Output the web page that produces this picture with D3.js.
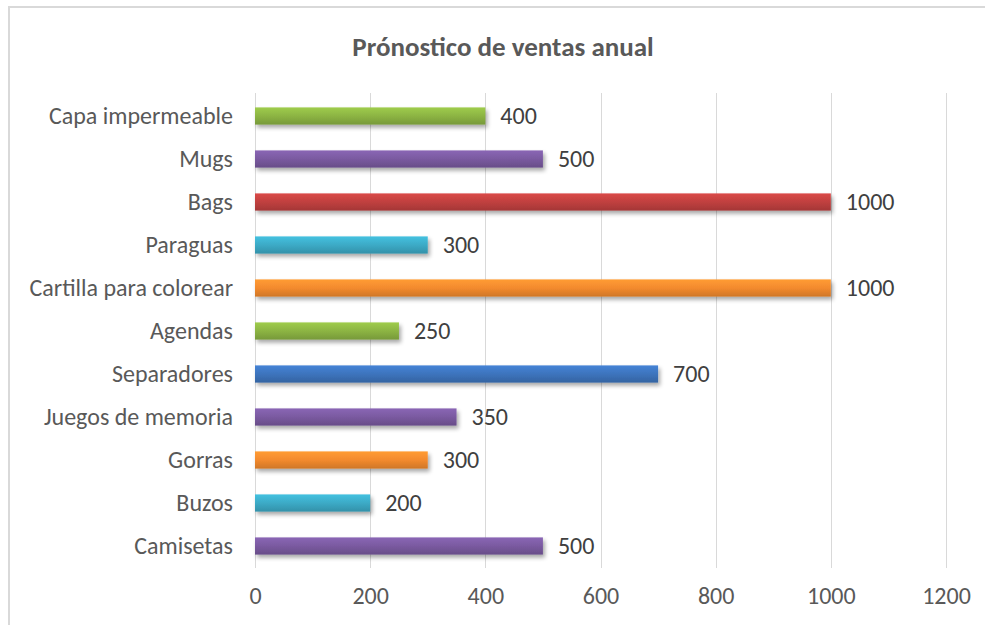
<!DOCTYPE html>
<html>
<head>
<meta charset="utf-8">
<script src="https://cdn.jsdelivr.net/npm/d3@7"></script>
<style>
  body { margin: 0; background: #fff; }
  svg { font-family: Carlito, Calibri, Lato, sans-serif; }
</style>
</head>
<body>
<div id="chart"></div>
<script>
// chart data, listed top to bottom as in the picture
var categories = ["Capa impermeable", "Mugs", "Bags", "Paraguas", "Cartilla para colorear",
                  "Agendas", "Separadores", "Juegos de memoria", "Gorras", "Buzos", "Camisetas"];
var sales = [400, 500, 1000, 300, 1000, 250, 700, 350, 300, 200, 500];
var barColors = ["#8cb443", "#7a5aa0", "#c0403f", "#3caac6", "#f38a2e",
                 "#8cb443", "#3d74bd", "#7a5aa0", "#f38a2e", "#3caac6", "#7a5aa0"];
var tickValues = [0, 200, 400, 600, 800, 1000, 1200];
var title = "Prónostico de ventas anual";

var width = 985, height = 625;
var plot = { left: 255, right: 946, top: 93, bottom: 568 };
var labelSize = 24;

var svg = d3.select("#chart").append("svg")
  .attr("width", width)
  .attr("height", height);

var defs = svg.append("defs");

// soft shadow under the bars
var shadow = defs.append("filter").attr("id", "shadow")
  .attr("x", "-5%").attr("y", "-40%").attr("width", "115%").attr("height", "200%");
shadow.append("feGaussianBlur").attr("in", "SourceAlpha").attr("stdDeviation", 2);
shadow.append("feOffset").attr("dx", 2).attr("dy", 3).attr("result", "blur");
shadow.append("feComponentTransfer").append("feFuncA").attr("type", "linear").attr("slope", 0.35);
var merge = shadow.append("feMerge");
merge.append("feMergeNode");
merge.append("feMergeNode").attr("in", "SourceGraphic");

// one vertical gradient per colour: lighter on top, darker at the bottom
var uniqueColors = Array.from(new Set(barColors));
uniqueColors.forEach(function(c, i) {
  var g = defs.append("linearGradient").attr("id", "grad" + i)
    .attr("x1", 0).attr("y1", 0).attr("x2", 0).attr("y2", 1);
  g.append("stop").attr("offset", "0%").attr("stop-color", d3.color(c).brighter(0.35));
  g.append("stop").attr("offset", "50%").attr("stop-color", c);
  g.append("stop").attr("offset", "100%").attr("stop-color", d3.color(c).darker(0.45));
});

// chart area border
svg.append("rect")
  .attr("x", 9).attr("y", 7)
  .attr("width", 1100).attr("height", 700)
  .attr("fill", "none")
  .attr("stroke", "#d9d9d9")
  .attr("stroke-width", 2);

svg.append("text")
  .attr("x", 503)
  .attr("y", 56)
  .attr("text-anchor", "middle")
  .attr("font-size", 27)
  .attr("font-weight", "bold")
  .attr("fill", "#595959")
  .text(title);

var x = d3.scaleLinear().domain([0, 1200]).range([plot.left, plot.right]);
var y = d3.scaleBand().domain(categories)
  .range([94.5, 567.5])
  .paddingInner(0.6)
  .paddingOuter(0.3);

// gridlines
svg.append("g").selectAll("line")
  .data(tickValues)
  .enter()
  .append("line")
  .attr("x1", function(d) { return Math.round(x(d)) + 0.5; })
  .attr("x2", function(d) { return Math.round(x(d)) + 0.5; })
  .attr("y1", plot.top)
  .attr("y2", plot.bottom)
  .attr("stroke", "#d9d9d9")
  .attr("stroke-width", 1);

// x axis labels
var xAxis = svg.append("g")
  .attr("transform", "translate(0," + 587 + ")")
  .call(d3.axisBottom(x).tickValues(tickValues).tickFormat(d3.format("d")).tickSize(0).tickPadding(0));
xAxis.select(".domain").remove();
xAxis.selectAll("text")
  .attr("font-family", "Carlito, Calibri, Lato, sans-serif")
  .attr("font-size", labelSize)
  .attr("fill", "#595959");

var rows = categories.map(function(c, i) {
  return { name: c, value: sales[i], color: barColors[i] };
});

svg.append("g").selectAll("rect")
  .data(rows)
  .enter()
  .append("rect")
  .attr("x", x(0))
  .attr("y", function(d) { return y(d.name); })
  .attr("width", function(d) { return x(d.value) - x(0); })
  .attr("height", y.bandwidth())
  .attr("fill", function(d) { return "url(#grad" + uniqueColors.indexOf(d.color) + ")"; })
  .attr("filter", "url(#shadow)");

// category labels
svg.append("g").selectAll("text")
  .data(rows)
  .enter()
  .append("text")
  .attr("x", 233)
  .attr("y", function(d) { return y(d.name) + y.bandwidth() / 2; })
  .attr("dy", "0.35em")
  .attr("text-anchor", "end")
  .attr("font-size", labelSize)
  .attr("fill", "#595959")
  .text(function(d) { return d.name; });

// value labels
svg.append("g").selectAll("text")
  .data(rows)
  .enter()
  .append("text")
  .attr("x", function(d) { return x(d.value) + 15; })
  .attr("y", function(d) { return y(d.name) + y.bandwidth() / 2; })
  .attr("dy", "0.35em")
  .attr("font-size", labelSize)
  .attr("fill", "#404040")
  .text(function(d) { return d.value; });
</script>
</body>
</html>
